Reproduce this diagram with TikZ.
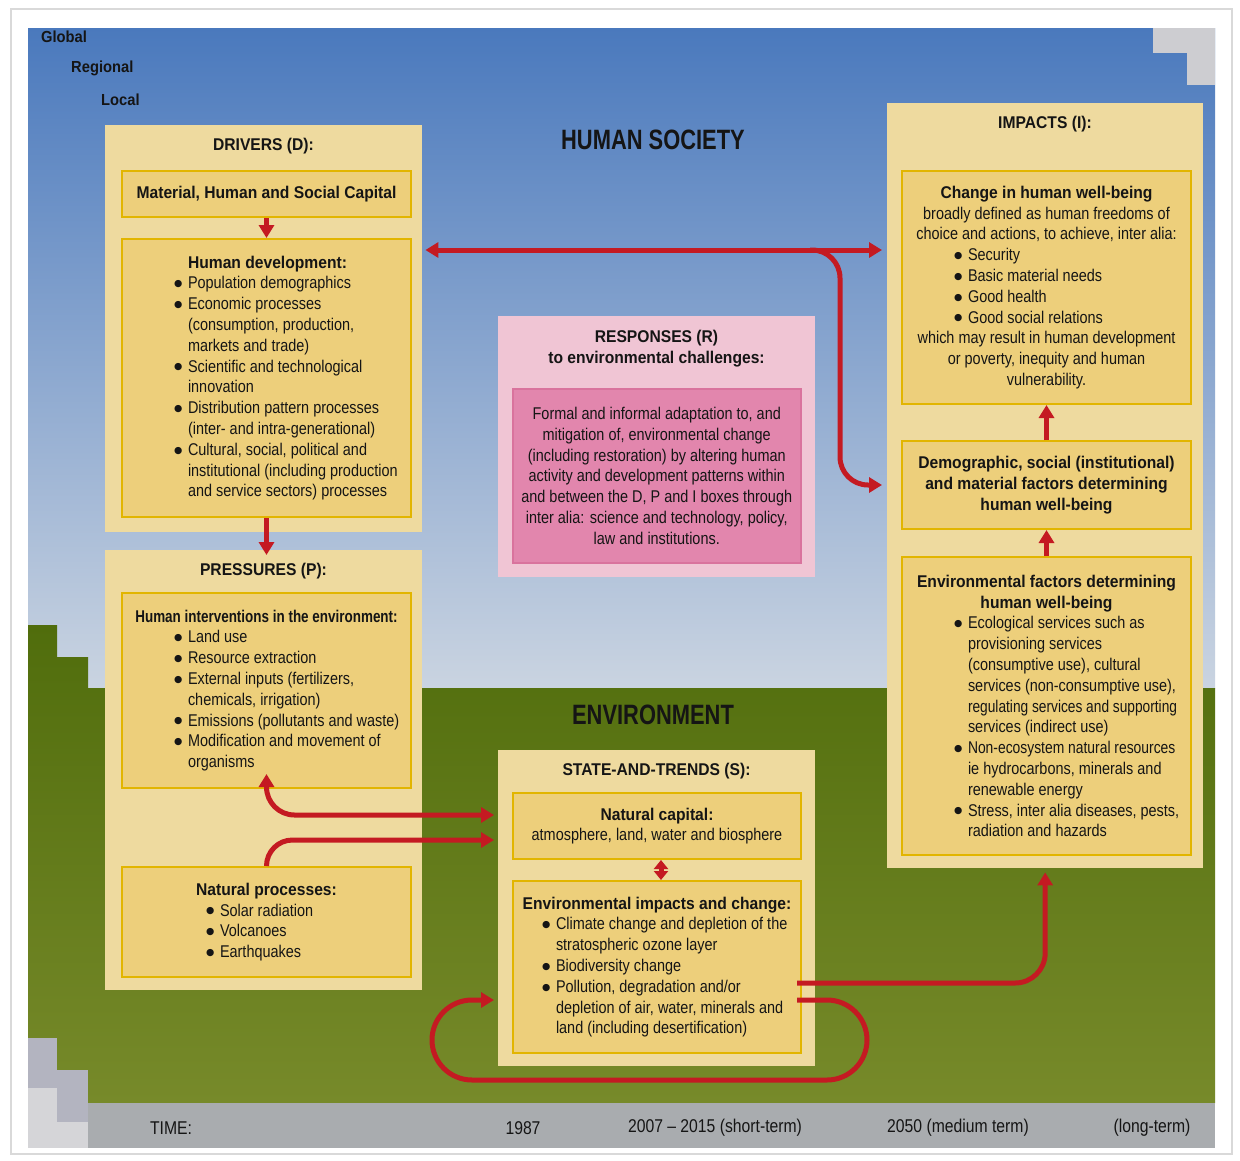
\documentclass[tikz,border=0pt]{standalone}
\usepackage{fontspec}
\setmainfont[FakeStretch=0.85,BoldFeatures={FakeStretch=0.92}]{Liberation Sans}
\newfontfamily\dejavu{DejaVu Sans}
\usetikzlibrary{arrows.meta,calc}
\definecolor{skytop}{HTML}{4A79BD}
\definecolor{skymid}{HTML}{86A3CD}
\definecolor{skybot}{HTML}{CAD4E1}
\definecolor{grtop}{HTML}{506D0C}
\definecolor{grbot}{HTML}{778A2A}
\definecolor{outerc}{HTML}{EEDA9F}
\definecolor{innerc}{HTML}{EDCF7B}
\definecolor{innerb}{HTML}{E2B500}
\definecolor{pinkout}{HTML}{F0C5D4}
\definecolor{pinkin}{HTML}{E286AD}
\definecolor{pinkb}{HTML}{D9739D}
\definecolor{arrc}{HTML}{C41A22}
\definecolor{txt}{HTML}{151515}
\definecolor{timec}{HTML}{A9ACAF}
\definecolor{grayA}{HTML}{CDCDD1}
\definecolor{grayB}{HTML}{B3B4C0}
\definecolor{grayL}{HTML}{D5D5D8}
\newcommand\bodyfont{\fontsize{17}{20.8}\selectfont}
\newlength\lnw
\newcommand\bu{\makebox[14pt][l]{\raisebox{2.2pt}{\dejavu\fontsize{9.5}{9.5}\selectfont ●}}}
\newcommand\ind{\hspace*{14pt}}
\newcommand\Ln[1]{\makebox[\lnw][l]{#1}}
\begin{document}
\begin{tikzpicture}[x=1pt,y=-1pt,
  outer/.style={fill=outerc,draw=none,anchor=north west,inner sep=0pt},
  inner/.style={fill=innerc,draw=innerb,line width=2pt,anchor=north west,inner sep=0pt,align=center,font=\bodyfont,text=txt},
  ttl/.style={font=\bodyfont\bfseries,text=txt,inner sep=0pt,align=center},
  timet/.style={font=\fontsize{18.5}{20}\selectfont,text=txt,inner sep=0pt},
  scalet/.style={anchor=west,font=\fontsize{16}{16}\selectfont\bfseries,text=txt,inner sep=0pt},
  bigt/.style={font=\fontsize{28}{28}\selectfont\bfseries,text=txt,inner sep=0pt},
  arr/.style={draw=arrc,line width=5pt},
  >={Triangle[length=13pt,width=15pt]}]
\useasboundingbox (0,0) rectangle (1240,1160);
\fill[white] (0,0) rectangle (1240,1160);
\draw[black!15,line width=1.5pt] (11,9) rectangle (1232,1154);
% backgrounds
\shade[top color=skytop,middle color=skymid,bottom color=skybot] (28,28) rectangle (1215,688);
\shade[top color=grtop,bottom color=grbot] (28,625) -- (57,625) -- (57,657) -- (88,657) -- (88,688) -- (1215,688) -- (1215,1103) -- (88,1103) -- (88,1070) -- (57,1070) -- (57,1038) -- (28,1038) -- cycle;
\fill[grayA] (1153,28) rectangle (1215,53);
\fill[grayA] (1187,53) rectangle (1215,85);
\fill[grayB] (28,1038) rectangle (57,1088);
\fill[grayL] (28,1088) rectangle (57,1148);
\fill[grayB] (57,1070) rectangle (88,1122);
\fill[grayL] (57,1122) rectangle (88,1148);
\fill[timec] (88,1103) rectangle (1215,1148);
% scale labels
\node[scalet] (glob) at (41,37) {Global};
\node[scalet] (regi) at (71,68) {Regional};
\node[scalet] (loca) at (101,100) {Local};
\node[bigt] (hs) at (653,140) {\scalebox{0.85}[1]{HUMAN SOCIETY}};
\node[bigt] (envt) at (653,715) {\scalebox{0.85}[1]{ENVIRONMENT}};
% DRIVERS
\node[outer,minimum width=317pt,minimum height=407pt] (drivers) at (105,125) {};
\node[ttl] (driversT) at (263.5,146) {DRIVERS (D):};
\node[inner,minimum width=289pt,minimum height=46pt] (cap) at (121,170) {\textbf{Material, Human and Social Capital}};
\setlength\lnw{185pt}
\node[inner,minimum width=289pt,minimum height=278pt] (hd) at (121,238) {%
\Ln{\ind\textbf{Human development:}}\\
\Ln{\bu Population demographics}\\
\Ln{\bu Economic processes}\\
\Ln{\ind(consumption, production,}\\
\Ln{\ind markets and trade)}\\
\Ln{\bu Scientific and technological}\\
\Ln{\ind innovation}\\
\Ln{\bu Distribution pattern processes}\\
\Ln{\ind(inter- and intra-generational)}\\
\Ln{\bu Cultural, social, political and}\\
\Ln{\ind institutional (including production}\\
\Ln{\ind and service sectors) processes}};
% PRESSURES
\node[outer,minimum width=317pt,minimum height=440pt] (pres) at (105,550) {};
\node[ttl] (presT) at (263.5,571) {PRESSURES (P):};
\node[inner,minimum width=289pt,minimum height=195pt] (hint) at (121,592) {%
\textbf{\scalebox{0.86}[1]{Human interventions in the environment:}}\\
\Ln{\bu Land use}\\
\Ln{\bu Resource extraction}\\
\Ln{\bu External inputs (fertilizers,}\\
\Ln{\ind chemicals, irrigation)}\\
\Ln{\bu Emissions (pollutants and waste)}\\
\Ln{\bu Modification and movement of}\\
\Ln{\ind organisms}};
\setlength\lnw{121pt}
\node[inner,minimum width=289pt,minimum height=110pt] (nat) at (121,866) {%
\textbf{Natural processes:}\\
\Ln{\bu Solar radiation}\\
\Ln{\bu Volcanoes}\\
\Ln{\bu Earthquakes}};
% RESPONSES
\node[outer,fill=pinkout,minimum width=317pt,minimum height=261pt] (resp) at (498,316) {};
\node[ttl] (respT) at (656.5,349) {RESPONSES (R)\\to environmental challenges:};
\node[inner,fill=pinkin,draw=pinkb,line width=1.5pt,minimum width=288pt,minimum height=174pt] (respin) at (512,388) {%
Formal and informal adaptation to, and\\
mitigation of, environmental change\\
(including restoration) by altering human\\
activity and development patterns within\\
and between the D, P and I boxes through\\
inter alia: science and technology, policy,\\
law and institutions.};
% STATE-AND-TRENDS
\node[outer,minimum width=317pt,minimum height=316pt] (state) at (498,750) {};
\node[ttl] (stateT) at (656.5,771) {STATE-AND-TRENDS (S):};
\node[inner,minimum width=288pt,minimum height=66pt] (ncap) at (512,792) {\textbf{Natural capital:}\\atmosphere, land, water and biosphere};
\setlength\lnw{230pt}
\node[inner,minimum width=288pt,minimum height=172pt] (envimp) at (512,880) {%
\textbf{Environmental impacts and change:}\\
\Ln{\bu Climate change and depletion of the}\\
\Ln{\ind stratospheric ozone layer}\\
\Ln{\bu Biodiversity change}\\
\Ln{\bu Pollution, degradation and/or}\\
\Ln{\ind depletion of air, water, minerals and}\\
\Ln{\ind land (including desertification)}};
% IMPACTS
\node[outer,minimum width=316pt,minimum height=765pt] (impacts) at (887,103) {};
\node[ttl] (impactsT) at (1045,124) {IMPACTS (I):};
\setlength\lnw{185pt}
\node[inner,minimum width=289pt,minimum height=233pt] (chg) at (901,170) {%
\textbf{Change in human well-being}\\
broadly defined as human freedoms of\\
choice and actions, to achieve, inter alia:\\
\Ln{\bu Security}\\
\Ln{\bu Basic material needs}\\
\Ln{\bu Good health}\\
\Ln{\bu Good social relations}\\
which may result in human development\\
or poverty, inequity and human\\
vulnerability.};
\node[inner,font=\bodyfont\bfseries,minimum width=289pt,minimum height=88pt] (dem) at (901,440) {%
Demographic, social (institutional)\\
and material factors determining\\
human well-being};
\node[inner,minimum width=289pt,minimum height=298pt] (envf) at (901,556) {%
\textbf{Environmental factors determining}\\
\textbf{human well-being}\\
\Ln{\bu Ecological services such as}\\
\Ln{\ind provisioning services}\\
\Ln{\ind(consumptive use), cultural}\\
\Ln{\ind services (non-consumptive use),}\\
\Ln{\ind\scalebox{0.95}[1]{regulating services and supporting}}\\
\Ln{\ind services (indirect use)}\\
\Ln{\bu \scalebox{0.96}[1]{Non-ecosystem natural resources}}\\
\Ln{\ind ie hydrocarbons, minerals and}\\
\Ln{\ind renewable energy}\\
\Ln{\bu Stress, inter alia diseases, pests,}\\
\Ln{\ind radiation and hazards}};
% time bar
\node[timet] (t0) at (171,1128) {TIME:};
\node[timet] (t1) at (523,1128) {1987};
\node[timet] (t2) at (715,1128) {2007 – 2015 (short-term)};
\node[timet] (t3) at (958,1128) {2050 (medium term)};
\node[timet] (t4) at (1152,1128) {(long-term)};
% arrows
\draw[arr,->] (cap.south) -- (hd.north);
\draw[arr,->,shorten >=-5pt] (hd.south) -- (hd.south |- pres.north);
\draw[arr,<->] ($(drivers.east|-0,250)+(3,0)$) -- ($(impacts.west|-0,250)+(-5,0)$);
\coordinate (br) at (810,250);
\draw[arr,->,rounded corners=28pt] (br) -| (840,485) -- ($(impacts.west|-0,485)+(-5,0)$);
\draw[arr,->] (dem.north) -- (chg.south);
\draw[arr,->] (envf.north) -- (dem.south);
\draw[arr,<->,rounded corners=28pt] ($(hint.south)+(0,-15)$) |- ($(state.west|-0,815)+(-4,0)$);
\draw[arr,->,rounded corners=26pt] (nat.north) |- ($(state.west|-0,840)+(-4,0)$);
\draw[arr,{Triangle[length=9pt,width=14pt]}-{Triangle[length=9pt,width=14pt]}] ([xshift=4pt]ncap.south) -- ([xshift=4pt]envimp.north);
\draw[arr,->,rounded corners=30pt] ($(envimp.east|-0,983)+(-5,0)$) -| ($(impacts.south)+(0,4)$);
\draw[arr,->,rounded corners=40pt] ($(envimp.east|-0,1000)+(-5,0)$) -- (867,1000) |- (432,1080) |- ($(state.west|-0,1000)+(-4,0)$);
\end{tikzpicture}
\end{document}
